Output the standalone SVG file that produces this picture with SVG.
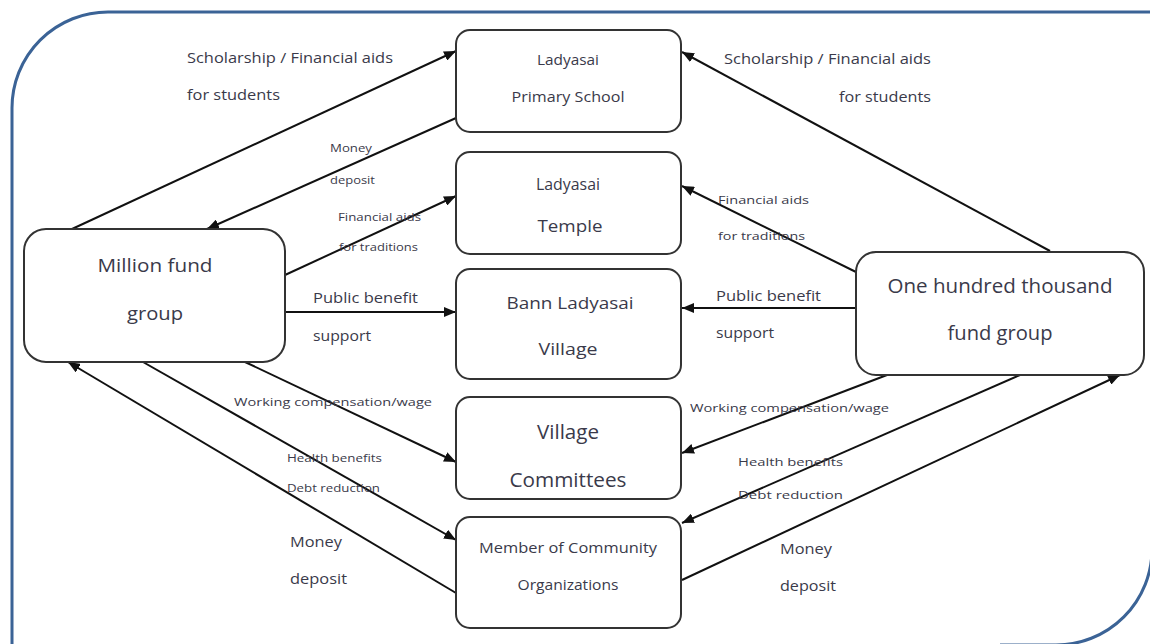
<svg xmlns="http://www.w3.org/2000/svg" width="1150" height="644" viewBox="0 0 1150 644">
<defs>
<marker id="ah" viewBox="0 0 12 10" refX="12" refY="5" markerWidth="12" markerHeight="10" markerUnits="userSpaceOnUse" orient="auto">
<path d="M0,0 L12,5 L0,10 Z" fill="#111"/>
</marker>
<style>
.frame{fill:none;stroke:#3b6396;stroke-width:3}
.box{fill:#fff;stroke:#333;stroke-width:2}
.c{fill:none;stroke:#111;stroke-width:2;marker-end:url(#ah)}
text{font-family:"Open Sans","Noto Sans","DejaVu Sans",sans-serif;fill:#3a3a4a}
.n{text-anchor:middle}
</style>
</defs>
<path class="frame" d="M12,660 L12,108 A96,96 0 0 1 108,12 L1160,12 M1152,530 L1152,549 A96,96 0 0 1 1056,645 L1000,645"/>

<g id="connectors">
<line class="c" x1="72" y1="229" x2="456" y2="51"/>
<line class="c" x1="456" y1="118" x2="207" y2="229"/>
<line class="c" x1="285" y1="275" x2="456" y2="196"/>
<line class="c" x1="285" y1="312" x2="456" y2="312"/>
<line class="c" x1="245" y1="362" x2="456" y2="462"/>
<line class="c" x1="143" y1="362" x2="456" y2="540"/>
<line class="c" x1="456" y1="593" x2="68" y2="362"/>
<line class="c" x1="1050" y1="251" x2="682" y2="52"/>
<line class="c" x1="856" y1="272" x2="682" y2="186"/>
<line class="c" x1="856" y1="308" x2="682" y2="308"/>
<line class="c" x1="887" y1="375" x2="682" y2="453"/>
<line class="c" x1="1020" y1="375" x2="682" y2="523"/>
<line class="c" x1="682" y1="580" x2="1120" y2="375"/>

<text x="187" y="63" font-size="15" textLength="206" lengthAdjust="spacingAndGlyphs">Scholarship / Financial aids</text>
<text x="187" y="100" font-size="15" textLength="93" lengthAdjust="spacingAndGlyphs">for students</text>
<text x="724" y="64" font-size="15" textLength="207" lengthAdjust="spacingAndGlyphs">Scholarship / Financial aids</text>
<text x="839" y="102" font-size="15" textLength="92" lengthAdjust="spacingAndGlyphs">for students</text>
<text x="330" y="152" font-size="10" textLength="42" lengthAdjust="spacingAndGlyphs">Money</text>
<text x="330" y="184" font-size="10" textLength="45" lengthAdjust="spacingAndGlyphs">deposit</text>
<text x="338" y="221" font-size="10" textLength="83" lengthAdjust="spacingAndGlyphs">Financial aids</text>
<text x="339" y="251" font-size="10" textLength="79" lengthAdjust="spacingAndGlyphs">for traditions</text>
<text x="313" y="303" font-size="15" textLength="105" lengthAdjust="spacingAndGlyphs">Public benefit</text>
<text x="313" y="341" font-size="15" textLength="58" lengthAdjust="spacingAndGlyphs">support</text>
<text x="718" y="204" font-size="11" textLength="91" lengthAdjust="spacingAndGlyphs">Financial aids</text>
<text x="718" y="240" font-size="11" textLength="87" lengthAdjust="spacingAndGlyphs">for traditions</text>
<text x="716" y="301" font-size="15" textLength="105" lengthAdjust="spacingAndGlyphs">Public benefit</text>
<text x="716" y="338" font-size="15" textLength="58" lengthAdjust="spacingAndGlyphs">support</text>
<text x="234" y="406" font-size="11.5" textLength="198" lengthAdjust="spacingAndGlyphs">Working compensation/wage</text>
<text x="690" y="412" font-size="11.5" textLength="199" lengthAdjust="spacingAndGlyphs">Working compensation/wage</text>
<text x="287" y="462" font-size="10.5" textLength="95" lengthAdjust="spacingAndGlyphs">Health benefits</text>
<text x="287" y="492" font-size="10.5" textLength="93" lengthAdjust="spacingAndGlyphs">Debt reduction</text>
<text x="738" y="466" font-size="11.5" textLength="105" lengthAdjust="spacingAndGlyphs">Health benefits</text>
<text x="738" y="499" font-size="11.5" textLength="105" lengthAdjust="spacingAndGlyphs">Debt reduction</text>
<text x="290" y="547" font-size="15" textLength="52" lengthAdjust="spacingAndGlyphs">Money</text>
<text x="290" y="584" font-size="15" textLength="57" lengthAdjust="spacingAndGlyphs">deposit</text>
<text x="780" y="554" font-size="15" textLength="52" lengthAdjust="spacingAndGlyphs">Money</text>
<text x="780" y="591" font-size="15" textLength="56" lengthAdjust="spacingAndGlyphs">deposit</text>
</g>

<g id="school">
<rect class="box" x="456" y="30" width="225" height="102" rx="14"/>
<text class="n" x="568" y="65" font-size="15" textLength="62" lengthAdjust="spacingAndGlyphs">Ladyasai</text>
<text class="n" x="568" y="102" font-size="15" textLength="113" lengthAdjust="spacingAndGlyphs">Primary School</text>
</g>
<g id="temple">
<rect class="box" x="456" y="152" width="225" height="102" rx="14"/>
<text class="n" x="568" y="190" font-size="17" textLength="64" lengthAdjust="spacingAndGlyphs">Ladyasai</text>
<text class="n" x="570" y="232" font-size="17" textLength="65" lengthAdjust="spacingAndGlyphs">Temple</text>
</g>
<g id="village">
<rect class="box" x="456" y="269" width="225" height="110" rx="14"/>
<text class="n" x="570" y="309" font-size="17" textLength="127" lengthAdjust="spacingAndGlyphs">Bann Ladyasai</text>
<text class="n" x="568" y="355" font-size="17" textLength="59" lengthAdjust="spacingAndGlyphs">Village</text>
</g>
<g id="committees">
<rect class="box" x="456" y="397" width="225" height="102" rx="14"/>
<text class="n" x="568" y="439" font-size="20" textLength="62" lengthAdjust="spacingAndGlyphs">Village</text>
<text class="n" x="568" y="487" font-size="20" textLength="117" lengthAdjust="spacingAndGlyphs">Committees</text>
</g>
<g id="members">
<rect class="box" x="456" y="517" width="225" height="111" rx="14"/>
<text class="n" x="568" y="553" font-size="15" textLength="178" lengthAdjust="spacingAndGlyphs">Member of Community</text>
<text class="n" x="568" y="590" font-size="15" textLength="101" lengthAdjust="spacingAndGlyphs">Organizations</text>
</g>
<g id="million">
<rect class="box" x="24" y="229" width="261" height="133" rx="22"/>
<text class="n" x="155" y="272" font-size="19" textLength="115" lengthAdjust="spacingAndGlyphs">Million fund</text>
<text class="n" x="155" y="320" font-size="19" textLength="56" lengthAdjust="spacingAndGlyphs">group</text>
</g>
<g id="hundred">
<rect class="box" x="856" y="252" width="288" height="123" rx="20"/>
<text class="n" x="1000" y="293" font-size="20" textLength="225" lengthAdjust="spacingAndGlyphs">One hundred thousand</text>
<text class="n" x="1000" y="340" font-size="20" textLength="105" lengthAdjust="spacingAndGlyphs">fund group</text>
</g>
</svg>
